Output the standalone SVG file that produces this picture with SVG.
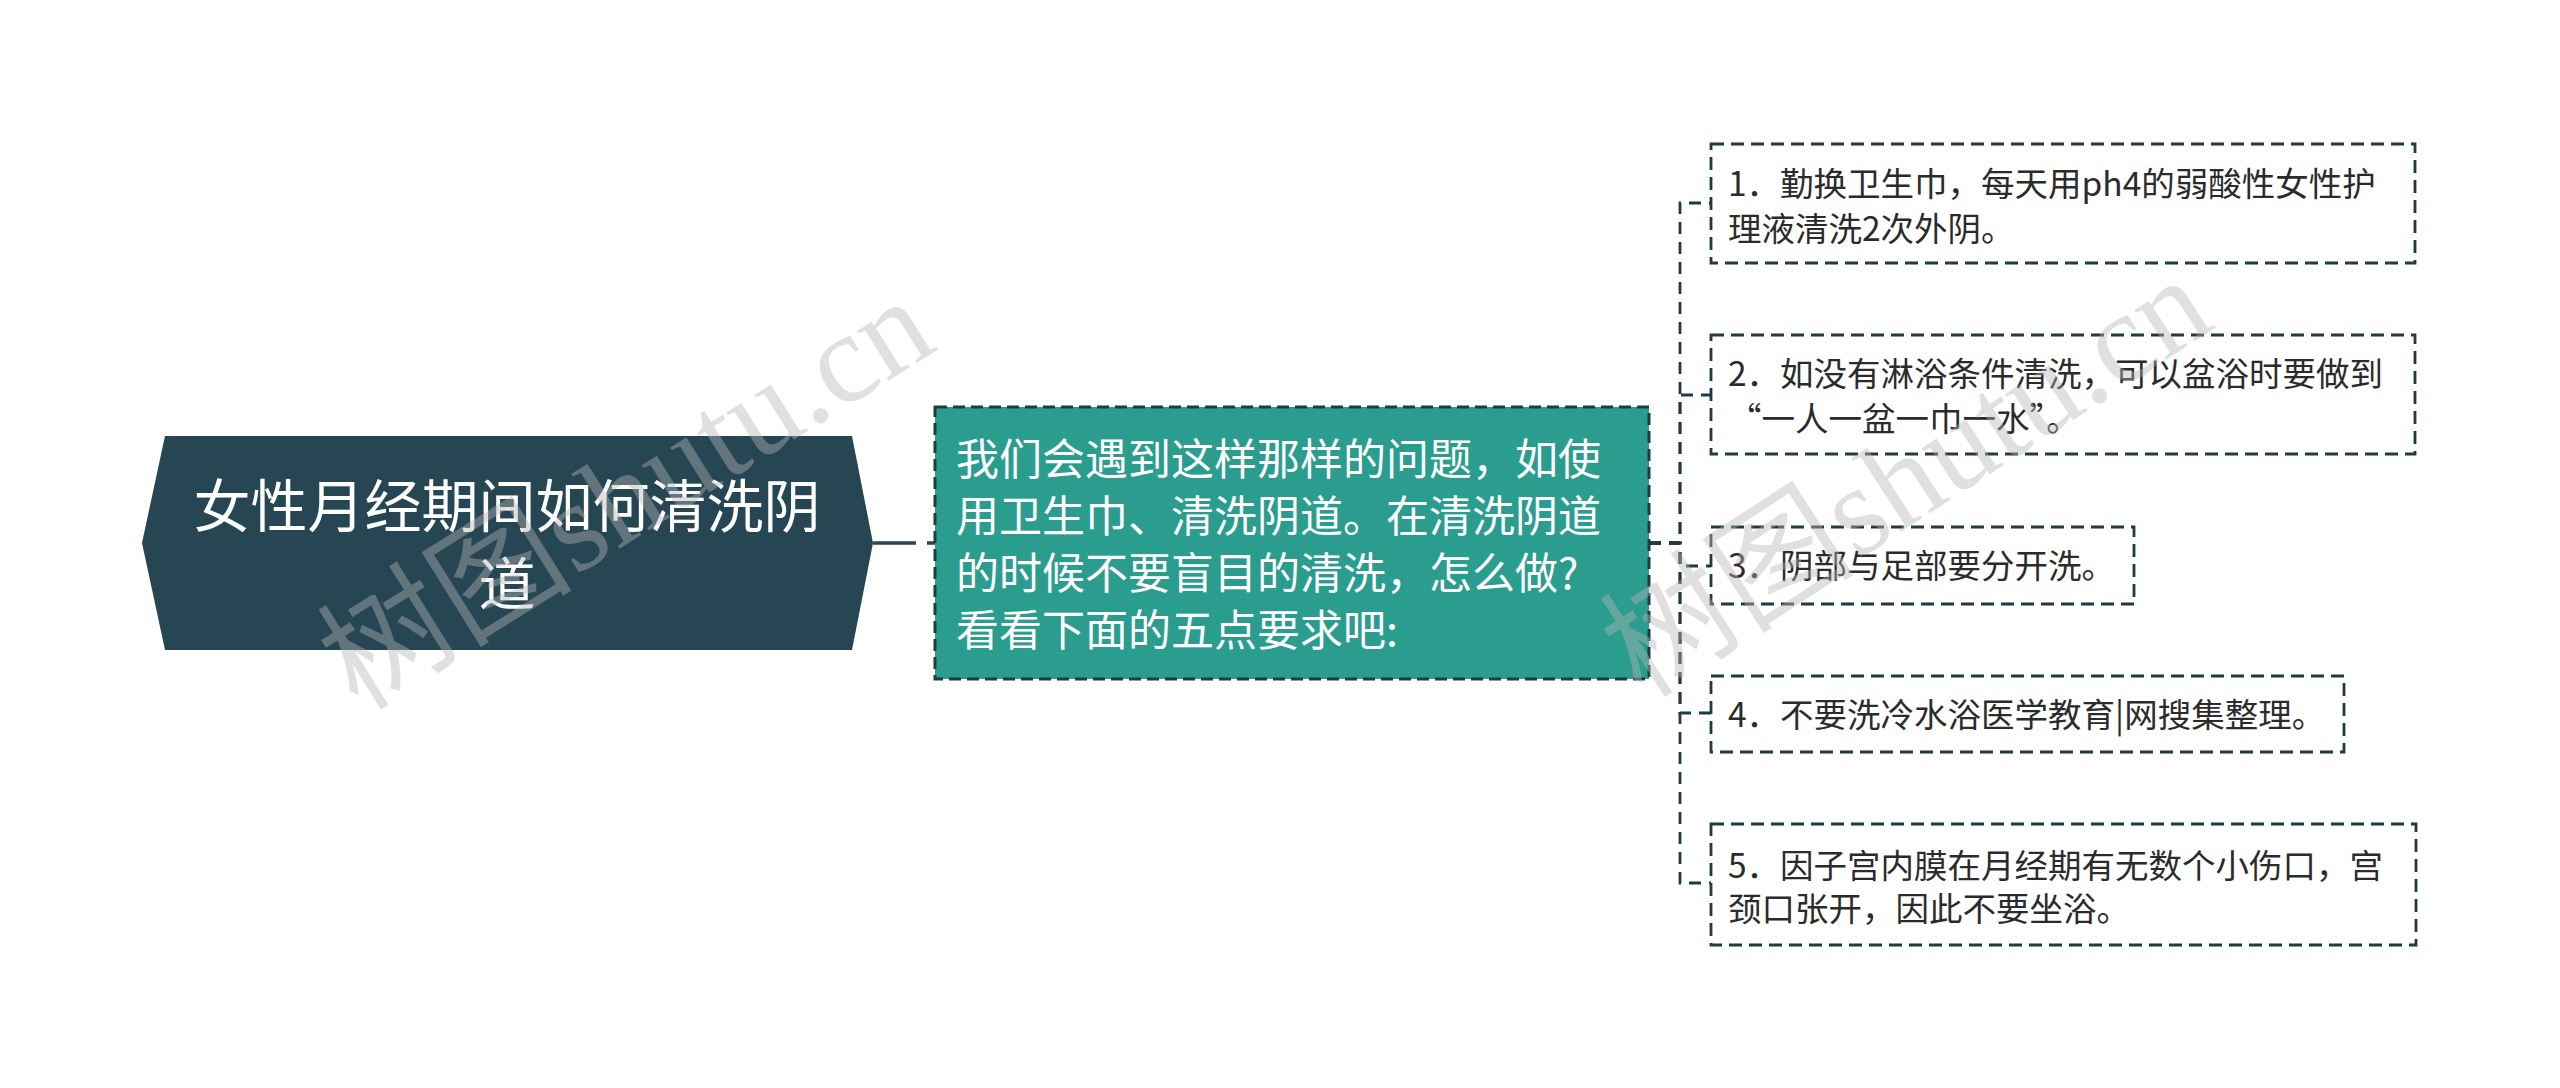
<svg xmlns="http://www.w3.org/2000/svg" width="2560" height="1088" viewBox="0 0 2560 1088">
<style>
.bg{fill:#ffffff}
.root{fill:#264653}
.rootText{fill:#ffffff;font-family:"Noto Sans CJK SC","Noto Sans",sans-serif;font-size:57px}
.mid{fill:#2a9d8f;stroke:#1f3b46;stroke-width:3;stroke-dasharray:12 6}
.midText{fill:#ffffff;font-family:"Noto Sans CJK SC","Noto Sans",sans-serif;font-size:43px}
.leaf{fill:#ffffff;stroke:#1f3b46;stroke-width:2.8;stroke-dasharray:13 7}
.leafText{fill:#2b2b2b;font-family:"Noto Sans CJK SC","Noto Sans",sans-serif;font-size:33.5px}
.conn{fill:none;stroke:#1f3b46;stroke-width:2.8;stroke-dasharray:12 8}
.conn0{fill:none;stroke:#264653;stroke-width:3.5;stroke-dasharray:43 11}
.wm{fill:#b4b4b4;fill-opacity:0.42;font-family:"Liberation Serif","Noto Sans CJK SC",serif;font-size:128px}
</style>
<rect class="bg" x="0" y="0" width="2560" height="1088"/>
<g id="connectors">
<path class="conn0" d="M873 543 H935"/>
<path class="conn" d="M1649 543 H1680 V203 H1711"/>
<path class="conn" d="M1649 543 H1680 V395 H1711"/>
<path class="conn" d="M1649 543 H1680 V566 H1711"/>
<path class="conn" d="M1649 543 H1680 V713 H1711"/>
<path class="conn" d="M1649 543 H1680 V883 H1711"/>
</g>
<g id="root">
<polygon class="root" points="142,543 165,436 852,436 873,543 852,650 165,650"/>
<text class="rootText" x="507" y="527" text-anchor="middle">女性月经期间如何清洗阴</text>
<text class="rootText" x="507" y="605" text-anchor="middle">道</text>
</g>
<g id="center">
<rect class="mid" x="935" y="407" width="714" height="272"/>
<text class="midText" x="956" y="475">我们会遇到这样那样的问题，如使</text>
<text class="midText" x="956" y="532">用卫生巾、清洗阴道。在清洗阴道</text>
<text class="midText" x="956" y="589">的时候不要盲目的清洗，怎么做?</text>
<text class="midText" x="956" y="646">看看下面的五点要求吧:</text>
</g>
<g id="leaf1">
<rect class="leaf" x="1711" y="144" width="704" height="119"/>
<text class="leafText" x="1728" y="196">1．勤换卫生巾，每天用ph4的弱酸性女性护</text>
<text class="leafText" x="1728" y="241">理液清洗2次外阴。</text>
</g>
<g id="leaf2">
<rect class="leaf" x="1711" y="335" width="704" height="119"/>
<text class="leafText" x="1728" y="386">2．如没有淋浴条件清洗，可以盆浴时要做到</text>
<text class="leafText" x="1728" y="431">“一人一盆一巾一水”。</text>
</g>
<g id="leaf3">
<rect class="leaf" x="1711" y="527" width="423" height="77"/>
<text class="leafText" x="1728" y="578">3．阴部与足部要分开洗。</text>
</g>
<g id="leaf4">
<rect class="leaf" x="1711" y="676" width="633" height="76"/>
<text class="leafText" x="1728" y="727">4．不要洗冷水浴医学教育|网搜集整理。</text>
</g>
<g id="leaf5">
<rect class="leaf" x="1711" y="824" width="705" height="121"/>
<text class="leafText" x="1728" y="878">5．因子宫内膜在月经期有无数个小伤口，宫</text>
<text class="leafText" x="1728" y="921">颈口张开，因此不要坐浴。</text>
</g>
<g id="watermarks">
<text class="wm" x="358" y="712" transform="rotate(-32 358 712)">树图shutu.cn</text>
<text class="wm" x="1642" y="700" transform="rotate(-33 1642 700)">树图shutu.cn</text>
</g>
</svg>
